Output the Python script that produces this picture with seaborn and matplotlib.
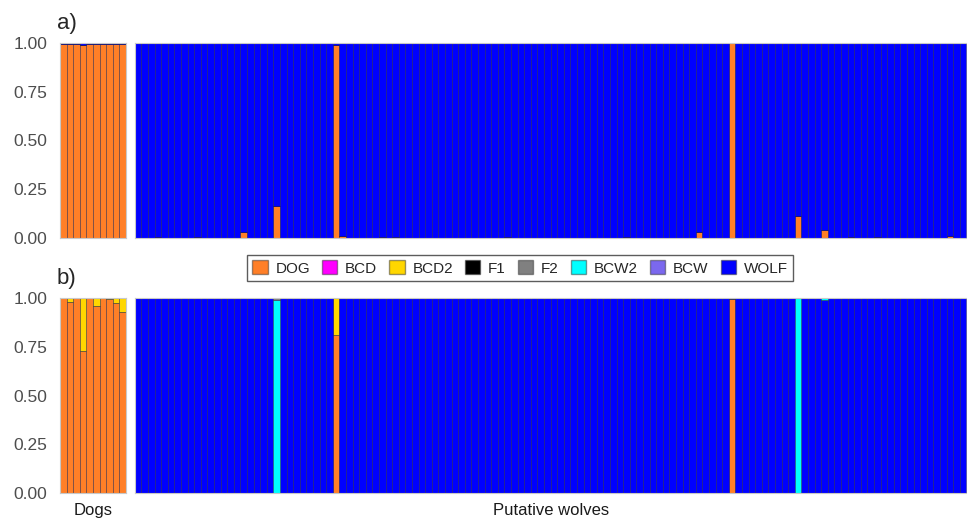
import numpy as np
import pandas as pd
import seaborn as sns
from matplotlib import pyplot as plt
from matplotlib.patches import Patch

clusters = ["DOG", "BCD", "BCD2", "F1", "F2", "BCW2", "BCW", "WOLF"]
palette = {"DOG": "#FF7F27", "BCD": "#FF00FF", "BCD2": "#FFD700", "F1": "#000000",
           "F2": "#808080", "BCW2": "#00FFFF", "BCW": "#7B68EE", "WOLF": "#0000FF"}
# stacking, top segment first
stack_order = ["F2", "BCW2", "BCW", "WOLF", "F1", "BCD2", "BCD", "DOG"]

n_dogs = 10
n_wolves = 126

# a) dog ancestry, rest is wolf
a_dogs_wolf = [0.003, 0.003, 0.003, 0.012, 0.003, 0.003, 0.003, 0.003, 0.003, 0.003]
a_wolves_dog = {3: 0.006, 9: 0.004, 16: 0.03, 21: 0.165, 30: 0.99, 31: 0.012,
                37: 0.004, 39: 0.004, 56: 0.006, 74: 0.005, 85: 0.03, 90: 1.0,
                100: 0.115, 104: 0.04, 108: 0.004, 112: 0.004, 123: 0.01}

# b) hybrid classes
b_dogs_bcd2 = [0.0, 0.02, 0.0, 0.27, 0.0, 0.04, 0.0, 0.005, 0.025, 0.07]
b_wolves_dog = {30: 0.81, 90: 0.995}
b_wolves_bcd2 = {30: 0.19}
b_wolves_f2 = {21: 0.01, 90: 0.005}
b_wolves_bcw2 = {21: 0.99, 100: 1.0, 104: 0.01}


def table(n, parts):
    q = {k: np.zeros(n) for k in clusters}
    for k, v in parts.items():
        if isinstance(v, dict):
            for i, x in v.items():
                q[k][i] = x
        else:
            q[k][:] = v
    if "WOLF" not in parts:
        q["WOLF"] = np.clip(1 - sum(q[k] for k in clusters if k != "WOLF"), 0, 1)
    else:
        q["DOG"] = 1 - q["WOLF"] - sum(q[k] for k in clusters if k not in ("DOG", "WOLF"))
    df = pd.DataFrame(q)
    df["sample"] = np.arange(n)
    return df.melt(id_vars="sample", var_name="cluster", value_name="q")


panels = [
    ("a)", table(n_dogs, {"WOLF": a_dogs_wolf}), table(n_wolves, {"DOG": a_wolves_dog})),
    ("b)", table(n_dogs, {"BCD2": b_dogs_bcd2, "WOLF": 0.0}),
     table(n_wolves, {"DOG": b_wolves_dog, "BCD2": b_wolves_bcd2,
                      "F2": b_wolves_f2, "BCW2": b_wolves_bcw2})),
]

sns.set_theme(style="white")
plt.rcParams["font.family"] = ["Liberation Sans", "DejaVu Sans"]

fig = plt.figure(figsize=(9.67, 5.2), dpi=100)
W, H = 967, 520
rows = [(43, 238), (298, 493)]
edge = (0.1, 0.1, 0.25, 0.5)

for (label, dogs, wolves), (top, bot) in zip(panels, rows):
    y0 = (H - bot) / H
    h = (bot - top) / H
    ax_d = fig.add_axes([60 / W, y0, 66 / W, h])
    ax_w = fig.add_axes([134.7 / W, y0, (966.5 - 134.7) / W, h])
    for ax, df, n in [(ax_d, dogs, n_dogs), (ax_w, wolves, n_wolves)]:
        sns.histplot(data=df, x="sample", weights="q", hue="cluster",
                     hue_order=stack_order, palette=palette, multiple="stack",
                     discrete=True, shrink=1, alpha=1, edgecolor=edge,
                     linewidth=0.6, legend=False, ax=ax)
        ax.set_xlim(-0.5, n - 0.5)
        ax.set_ylim(0, 1)
        ax.set_xlabel("")
        ax.set_ylabel("")
        ax.set_xticks([])
        for s in ax.spines.values():
            s.set_color("#C8C8C8")
            s.set_linewidth(0.8)
    ax_d.set_yticks([0, 0.25, 0.5, 0.75, 1.0])
    ax_d.set_yticklabels(["0.00", "0.25", "0.50", "0.75", "1.00"])
    ax_d.tick_params(axis="y", length=0, pad=9, labelsize=12.5, labelcolor="#4D4D4D")
    ax_w.set_yticks([])
    fig.text(57 / W, (H - top + 14) / H, label, fontsize=16, ha="left", va="baseline")
    if label == "b)":
        ax_d.set_xlabel("Dogs", fontsize=12, color="#1A1A1A", labelpad=7)
        ax_w.set_xlabel("Putative wolves", fontsize=12, color="#1A1A1A", labelpad=7)

handles = [Patch(facecolor=palette[k], edgecolor=(0.2, 0.2, 0.2, 0.5), label=k) for k in clusters]
fig.legend(handles=handles, loc="center", bbox_to_anchor=(520 / W, (H - 268) / H),
           ncol=len(clusters), frameon=True, fontsize=11, handlelength=1.0,
           handleheight=1.0, handletextpad=0.5, columnspacing=0.8,
           borderpad=0.35, fancybox=False, edgecolor="#333333")

fig.savefig("out.png", dpi=100)
